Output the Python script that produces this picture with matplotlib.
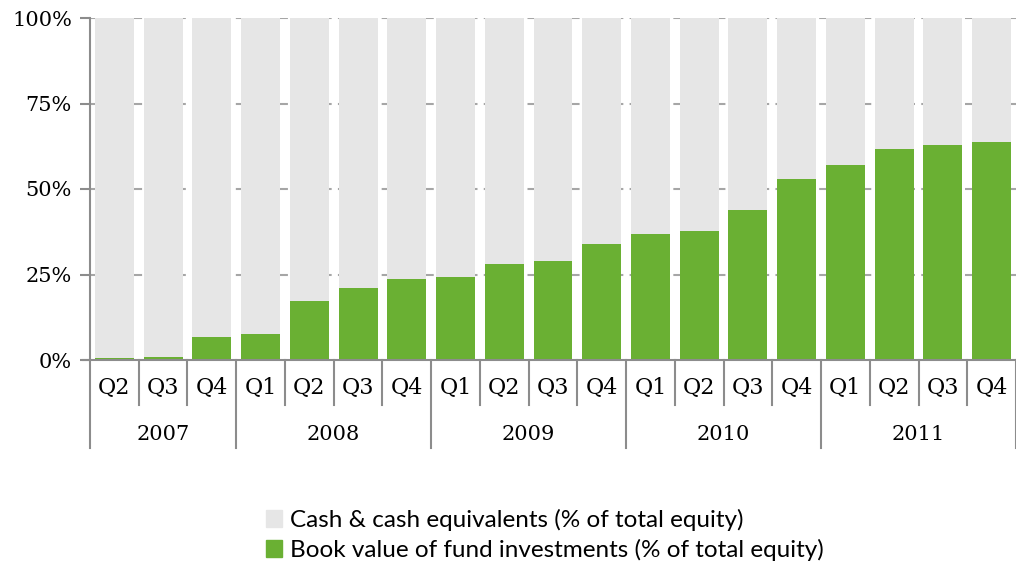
import matplotlib.pyplot as plt
from matplotlib.patches import Patch

years = ['2007', '2008', '2009', '2010', '2011']
quarters = ['Q2', 'Q3', 'Q4',
            'Q1', 'Q2', 'Q3', 'Q4',
            'Q1', 'Q2', 'Q3', 'Q4',
            'Q1', 'Q2', 'Q3', 'Q4',
            'Q1', 'Q2', 'Q3', 'Q4']
quarters_per_year = [3, 4, 4, 4, 4]
fund_pct = [0.5, 0.8, 6.7, 7.6, 17.3, 21.1, 23.7,
            24.3, 28.0, 29.0, 34.0,
            36.8, 37.7, 43.9, 53.0,
            57.0, 61.7, 62.9, 63.7]
cash_pct = [100 - v for v in fund_pct]

green = '#6AB033'
grey = '#E6E6E6'
axis_grey = '#8C8C8C'
serif = 'DejaVu Serif'

fig = plt.figure(figsize=(10.16, 5.67), dpi=100)
ax = fig.add_axes([90 / 1016, 1 - 360 / 567, 1 - 90 / 1016, 342 / 567])

x = list(range(len(quarters)))
ax.bar(x, fund_pct, width=0.8, color=green, zorder=3)
ax.bar(x, cash_pct, bottom=fund_pct, width=0.8, color=grey, zorder=3)

ax.set_xlim(-0.5, len(quarters) - 0.5)
ax.set_ylim(0, 100)
ax.set_yticks([0, 25, 50, 75, 100])
ax.set_yticklabels(['0%', '25%', '50%', '75%', '100%'], family=serif, fontsize=15)
for y in [25, 50, 75, 100]:
    ax.axhline(y, color='#A6A6A6', lw=1.5, ls=(0, (4, 3)), zorder=1)

for s in ['top', 'right', 'bottom']:
    ax.spines[s].set_visible(False)
ax.spines['left'].set_color(axis_grey)
ax.spines['left'].set_linewidth(1.5)
ax.tick_params(axis='y', length=7, width=1.5, color=axis_grey, pad=6)
ax.set_xticks([])
ax.plot([-0.5 - 0.15, len(quarters) - 0.5], [0, 0], color=axis_grey, lw=1.5,
        clip_on=False, zorder=4)

# category separators and labels under the axis
trans = ax.get_xaxis_transform()
q_bottom = -45 / 342
y_bottom = -88 / 342
year_starts = [0]
for n in quarters_per_year:
    year_starts.append(year_starts[-1] + n)
for i in range(len(quarters) + 1):
    low = y_bottom if i in year_starts else q_bottom
    ax.plot([i - 0.5, i - 0.5], [0, low], color=axis_grey, lw=1.5,
            transform=trans, clip_on=False)
for i, q in enumerate(quarters):
    ax.text(i, -28 / 342, q, transform=trans, ha='center', va='center',
            family=serif, fontsize=16)
for k, yr in enumerate(years):
    mid = (year_starts[k] + year_starts[k + 1] - 1) / 2
    ax.text(mid, -74 / 342, yr, transform=trans, ha='center', va='center',
            family=serif, fontsize=15)

handles = [Patch(color=grey, label='Cash & cash equivalents (% of total equity)'),
           Patch(color=green, label='Book value of fund investments (% of total equity)')]
fig.legend(handles=handles, loc='upper left', bbox_to_anchor=(266 / 1016, 1 - 509 / 567),
           frameon=False, prop={'family': 'Lato', 'size': 17.5}, borderpad=0,
           borderaxespad=0, handlelength=0.65, handleheight=0.65,
           handletextpad=0.35, labelspacing=0.32)

fig.savefig('out.png', dpi=100)
